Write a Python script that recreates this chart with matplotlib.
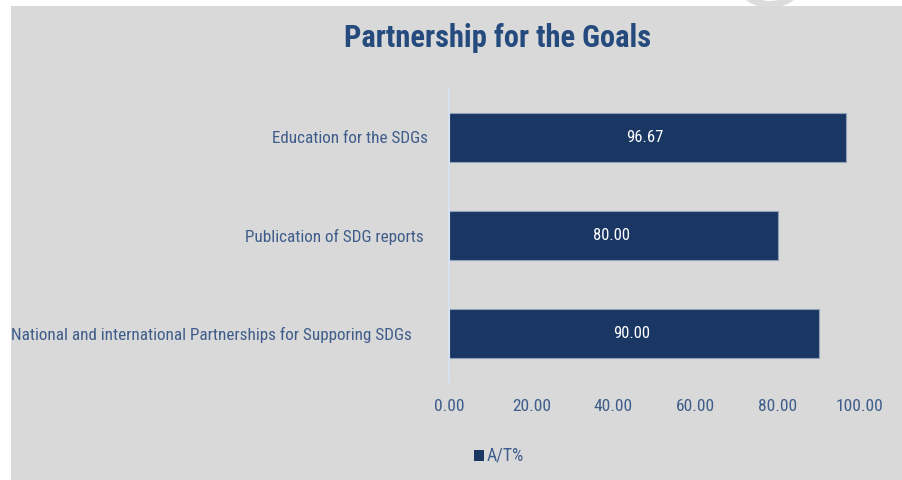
import matplotlib
matplotlib.use("Agg")
import matplotlib.pyplot as plt
from matplotlib.patches import Rectangle, Circle
from matplotlib.transforms import ScaledTranslation
from matplotlib import font_manager

categories = [
    "Education for the SDGs",
    "Publication of SDG reports",
    "National and international Partnerships for Supporing SDGs",
]
values = [96.67, 80.00, 90.00]
xticks = [0, 20, 40, 60, 80, 100]
series_name = "A/T%"
title = "Partnership for the Goals"

BAR = "#1a3764"
TEXT = "#3f5d8a"
TITLE = "#244a7e"
BG = "#d9d9d9"

# pick a narrow sans-serif face if one is present
available = {f.name for f in font_manager.fontManager.ttflist}
preferred = ["Arial Narrow", "Liberation Sans Narrow", "Roboto Condensed",
             "Pragati Narrow", "Archivo Narrow", "PT Sans Narrow"]
narrow = [n for n in preferred if n in available]
plt.rcParams["font.family"] = narrow[:1] + ["DejaVu Sans"]
if not narrow:
    plt.rcParams["font.stretch"] = "condensed"

W, H = 903, 480
fig = plt.figure(figsize=(W / 100, H / 100), dpi=100)
fig.patch.set_facecolor("white")
# faint ring peeking in at the top edge (coordinates in inches)
fig.patches.append(Circle((7.70, 5.13), 0.375, transform=fig.dpi_scale_trans,
                          facecolor="white", edgecolor="#dcdcdc",
                          linewidth=5, zorder=-20))
fig.patches.append(Rectangle((11 / W, 0), 1 - 11 / W, 1 - 6 / H,
                             transform=fig.transFigure, facecolor=BG,
                             edgecolor="none", zorder=-10))

ax = fig.add_axes([449.5 / W, (H - 382) / H, 410 / W, 294 / H])
ax.set_facecolor("none")

ypos = list(range(len(categories)))
bars = ax.barh(ypos, values, height=0.5, color=BAR, edgecolor="#8fa0b8",
               linewidth=0.8)
ax.set_xlim(0, 100)
ax.set_ylim(len(categories) - 0.5, -0.5)

for b, v in zip(bars, values):
    ax.text(b.get_width() / 2 - 0.6, b.get_y() + b.get_height() / 2, f"{v:.2f}",
            ha="center", va="center", color="white", fontsize=12)

ax.set_yticks(ypos)
ax.set_yticklabels(categories, fontsize=12.3, color=TEXT)
ax.set_xticks(xticks)
ax.set_xticklabels([f"{t:.2f}" for t in xticks], fontsize=12.6, color=TEXT)
ax.tick_params(axis="y", length=0, pad=15.5)
ax.tick_params(axis="x", length=0, pad=12)

# category labels sit at slightly different distances from the axis
label_shift_px = [0, -4, -16]
for lab, dx in zip(ax.get_yticklabels(), label_shift_px):
    lab.set_transform(lab.get_transform() +
                      ScaledTranslation(dx / 100, 0, fig.dpi_scale_trans))

for s in ["top", "right", "bottom"]:
    ax.spines[s].set_visible(False)
ax.spines["left"].set_color("#d6e2f0")
ax.spines["left"].set_linewidth(1.5)

fig.text(498 / W, 1 - 38 / H, title, ha="center", va="center",
         fontsize=22, fontweight="bold", color=TITLE)

# legend entry
fig.patches.append(Rectangle((474 / W, 1 - 461 / H), 10 / W, 11 / H,
                             transform=fig.transFigure, facecolor=BAR,
                             edgecolor="none"))
fig.text(487 / W, 1 - 456 / H, series_name, ha="left", va="center",
         fontsize=12.8, color=TEXT)

fig.savefig("out.png", dpi=100)
